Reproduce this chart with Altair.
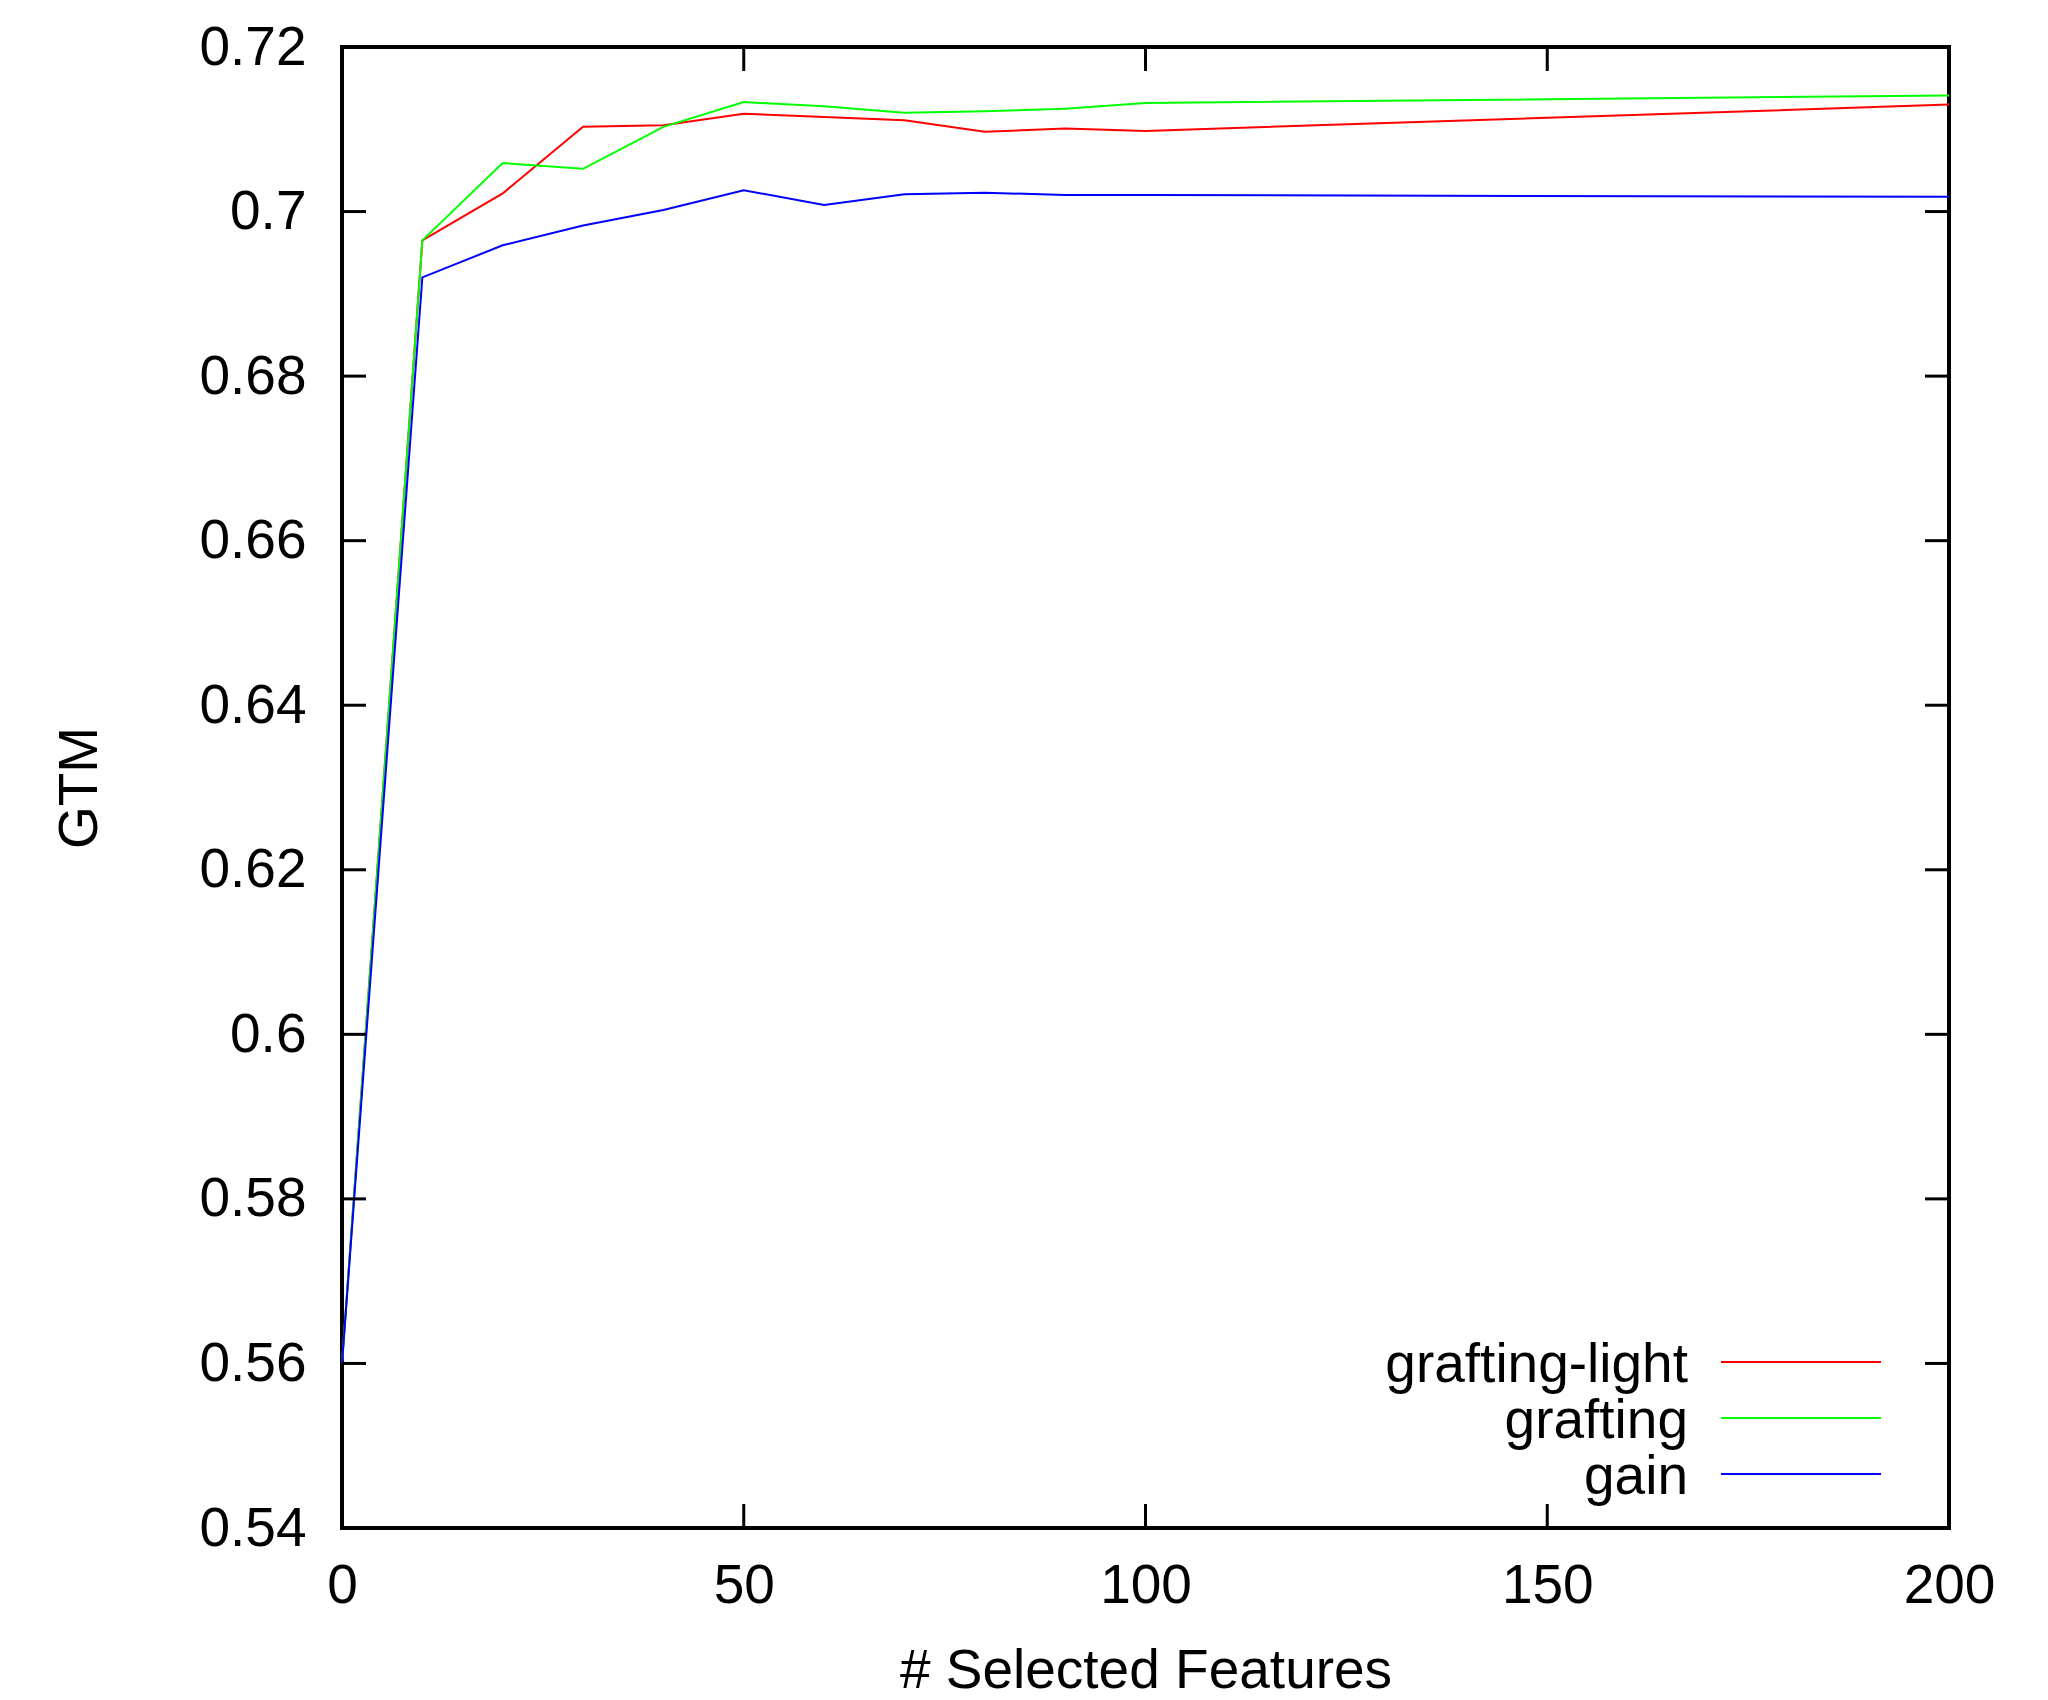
import altair as alt
import pandas as pd

# ---- data ----
features = [0, 10, 20, 30, 40, 50, 60, 70, 80, 90, 100, 200]
grafting_light = [0.56, 0.6965, 0.7022, 0.7103, 0.7105, 0.7119, 0.7115, 0.7111, 0.7097, 0.7101, 0.7098, 0.7130]
grafting = [0.56, 0.6965, 0.7059, 0.7052, 0.7103, 0.7133, 0.7128, 0.7120, 0.7122, 0.7125, 0.7132, 0.7141]
gain = [0.56, 0.6920, 0.6959, 0.6983, 0.7002, 0.7026, 0.7008, 0.7021, 0.7023, 0.7020, 0.7020, 0.7018]

series_names = ["grafting-light", "grafting", "gain"]
series_colors = ["#ff0000", "#00ff00", "#0000ff"]

y_ticks = [0.54, 0.56, 0.58, 0.60, 0.62, 0.64, 0.66, 0.68, 0.70, 0.72]
x_ticks = [0, 50, 100, 150, 200]

# ---- layout / style ----
W, H = 1607, 1481
FONT = "Liberation Sans"
FS = 55
TICK = 24

rows = []
for name, vals in zip(series_names, [grafting_light, grafting, gain]):
    for x, v in zip(features, vals):
        rows.append({"features": x, "gtm": v, "series": name})
df = pd.DataFrame(rows)

x_scale = alt.Scale(domain=[0, 200], nice=False, zero=False)
y_scale = alt.Scale(domain=[0.54, 0.72], nice=False, zero=False)
color_scale = alt.Scale(domain=series_names, range=series_colors)

x_axis = alt.Axis(values=x_ticks, title="# Selected Features", labelPadding=31,
                  labelFlush=False, labelOverlap=False,
                  titleX=W / 2, titleY=159, titleBaseline="alphabetic", titleAlign="center")
y_axis = alt.Axis(values=y_ticks, format="~g", title="GTM", labelPadding=36,
                  labelOverlap=False, titleAngle=270,
                  titleX=-246, titleY=H / 2, titleBaseline="alphabetic", titleAlign="center")

layers = []
for name in series_names:
    layers.append(
        alt.Chart(df).transform_filter(alt.datum.series == name).mark_line(strokeWidth=2).encode(
            x=alt.X("features:Q", scale=x_scale, axis=x_axis, title="# Selected Features"),
            y=alt.Y("gtm:Q", scale=y_scale, axis=y_axis, title="GTM"),
            color=alt.Color("series:N", scale=color_scale, legend=None),
        )
    )

yt = pd.DataFrame({"v": y_ticks})
xt = pd.DataFrame({"v": x_ticks})
tick_style = dict(color="black", strokeWidth=3)

layers.append(alt.Chart(yt).mark_rule(**tick_style).encode(
    y=alt.Y("v:Q", scale=y_scale, axis=y_axis, title="GTM"), x=alt.value(0), x2=alt.value(TICK)))
layers.append(alt.Chart(yt).mark_rule(**tick_style).encode(
    y=alt.Y("v:Q", scale=y_scale, axis=y_axis, title="GTM"), x=alt.value(W - TICK), x2=alt.value(W)))
layers.append(alt.Chart(xt).mark_rule(**tick_style).encode(
    x=alt.X("v:Q", scale=x_scale, axis=x_axis, title="# Selected Features"), y=alt.value(H - TICK), y2=alt.value(H)))
layers.append(alt.Chart(xt).mark_rule(**tick_style).encode(
    x=alt.X("v:Q", scale=x_scale, axis=x_axis, title="# Selected Features"), y=alt.value(0), y2=alt.value(TICK)))

# ---- key (legend) drawn inside the plot, bottom right ----
LEG_TEXT_X = 1346
LEG_X1, LEG_X2 = 1379, 1539
LEG_Y0, LEG_DY = 1315, 56
for i, name in enumerate(series_names):
    ldf = pd.DataFrame({"series": [name]})
    ypos = LEG_Y0 + i * LEG_DY
    layers.append(alt.Chart(ldf).mark_text(align="right", baseline="middle", dy=3, font=FONT,
                                           fontSize=FS, color="black").encode(
        text="series:N", x=alt.value(LEG_TEXT_X), y=alt.value(ypos)))
    layers.append(alt.Chart(ldf).mark_rule(strokeWidth=2).encode(
        color=alt.Color("series:N", scale=color_scale, legend=None),
        x=alt.value(LEG_X1), x2=alt.value(LEG_X2), y=alt.value(ypos)))

chart = alt.layer(*layers).properties(
    width=W, height=H,
    autosize=alt.AutoSizeParams(type="none"),
    padding={"left": 334, "top": 39, "right": 91, "bottom": 172},
    background="white",
).configure_view(
    stroke="black", strokeWidth=4
).configure_axis(
    domain=False, grid=False, ticks=False, tickSize=0,
    labelFont=FONT, labelFontSize=FS, labelColor="black",
    titleFont=FONT, titleFontSize=FS, titleColor="black", titleFontWeight="normal",
)

chart.save("out.html", embed_options={"renderer": "svg", "actions": False})
